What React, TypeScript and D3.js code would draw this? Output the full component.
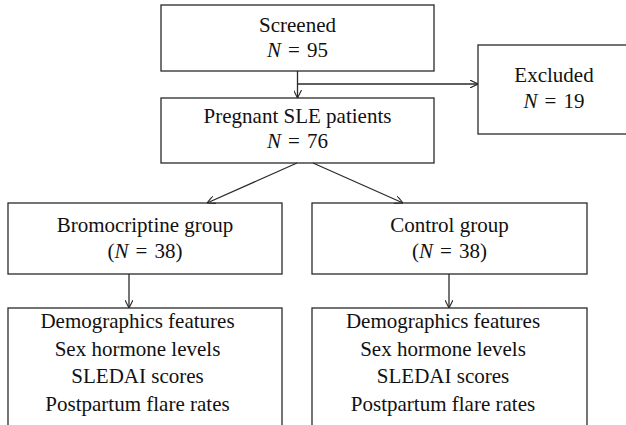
import React, { useEffect, useRef } from 'react';
import * as d3 from 'd3';

// flowchart content
const screenedLines = ['Screened', 'N = 95'];
const excludedLines = ['Excluded', 'N = 19'];
const pregnantLines = ['Pregnant SLE patients', 'N = 76'];
const groupNames = ['Bromocriptine group', 'Control group'];
const groupCounts = ['(N = 38)', '(N = 38)'];
const outcomeLines = [
  'Demographics features',
  'Sex hormone levels',
  'SLEDAI scores',
  'Postpartum flare rates',
];

const W = 626;
const H = 425;
const STROKE = '#2a2a2a';

// writes "N" in italics, the rest upright; a bit more air around "="
function addLabel(g: any, text: string, x: number, y: number) {
  const t = g.append('text')
    .attr('x', x)
    .attr('y', y)
    .attr('text-anchor', 'middle')
    .attr('font-family', "'Liberation Serif', 'Times New Roman', serif")
    .attr('font-size', 21)
    .attr('fill', '#111');
  const parts = text.replace(/ = /g, '\u2004=\u2004').split(/(N)/).filter(p => p !== '');
  parts.forEach(p => {
    const s = t.append('tspan').text(p);
    if (p === 'N') s.attr('font-style', 'italic');
  });
}

const App = () => {
  const svgRef = useRef(null);

  useEffect(() => {
    const svg = d3.select(svgRef.current);
    svg.selectAll('*').remove();

    svg.append('rect').attr('width', W).attr('height', H).attr('fill', '#fff');

    svg.append('defs').append('marker')
      .attr('id', 'arr')
      .attr('viewBox', '0 0 10 10')
      .attr('refX', 10)
      .attr('refY', 5)
      .attr('markerWidth', 8)
      .attr('markerHeight', 8)
      .attr('markerUnits', 'userSpaceOnUse')
      .attr('orient', 'auto')
      .append('path')
      .attr('d', 'M0,0 L10,5 L0,10')
      .attr('fill', 'none')
      .attr('stroke', STROKE)
      .attr('stroke-width', 1.4);

    const g = svg.append('g');

    const box = (x0: number, y0: number, x1: number, y1: number) =>
      g.append('rect')
        .attr('x', x0).attr('y', y0)
        .attr('width', x1 - x0).attr('height', y1 - y0)
        .attr('fill', 'none')
        .attr('stroke', STROKE)
        .attr('stroke-width', 1.3);

    const line = d3.line();
    const arrow = (pts: [number, number][], head = true) =>
      g.append('path')
        .attr('d', line(pts))
        .attr('fill', 'none')
        .attr('stroke', STROKE)
        .attr('stroke-width', 1.3)
        .attr('marker-end', head ? 'url(#arr)' : null);

    // boxes
    box(161, 5, 434, 71);
    box(478, 45, W + 20, 134);
    box(161, 98, 434, 163);
    const groupX = [[8, 282], [312, 587]];
    groupX.forEach(([a, b]) => box(a, 203, b, 274));
    groupX.forEach(([a, b]) => box(a, 308, b, H + 20));

    // connectors
    arrow([[297.5, 71], [297.5, 98]]);
    arrow([[297.5, 84], [478, 84]]);
    arrow([[297, 163], [207, 203]]);
    arrow([[313, 163], [403, 203]]);
    const dropX = [129, 449];
    dropX.forEach(x => arrow([[x, 274], [x, 308]]));

    // texts
    screenedLines.forEach((t, i) => addLabel(g, t, 297.5, 32 + i * 25));
    excludedLines.forEach((t, i) => addLabel(g, t, 554, 82 + i * 26));
    pregnantLines.forEach((t, i) => addLabel(g, t, 297.5, 123 + i * 25));
    groupX.forEach(([a, b], k) => {
      addLabel(g, groupNames[k], (a + b) / 2, 232);
      addLabel(g, groupCounts[k], (a + b) / 2, 258);
    });
    const outX = [137.5, 443];
    outX.forEach(cx =>
      outcomeLines.forEach((t, i) => addLabel(g, t, cx, 328 + i * 27.5)));
  }, []);

  return (
    <svg
      ref={svgRef}
      width={W}
      height={H}
      style={{ position: 'absolute', left: 0, top: 0 }}
    />
  );
};

export default App;
